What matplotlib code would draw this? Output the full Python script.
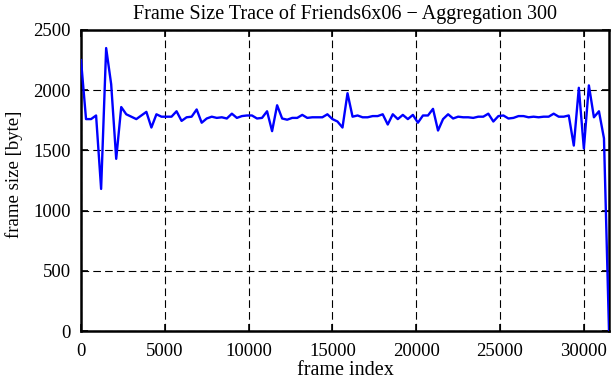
import matplotlib
matplotlib.use("Agg")
import matplotlib.pyplot as plt

# --- Data (aggregation of 300 frames) ---
frame_index = list(range(0, 31201, 300)) + [31500]
frame_size = [
    2250, 1760, 1760, 1790, 1180, 2350, 2050, 1430, 1860, 1800,   # 0 - 2700
    1780, 1760, 1790, 1820, 1690, 1800, 1780, 1780, 1780, 1825,   # 3000 - 5700
    1745, 1775, 1780, 1840, 1730, 1765, 1780, 1770, 1775, 1765,   # 6000 - 8700
    1805, 1770, 1785, 1790, 1790, 1765, 1770, 1825, 1660, 1875,   # 9000 - 11700
    1765, 1755, 1770, 1770, 1795, 1770, 1775, 1775, 1775, 1800,   # 12000 - 14700
    1760, 1740, 1690, 1975, 1780, 1790, 1775, 1775, 1785, 1785,   # 15000 - 17700
    1800, 1715, 1800, 1760, 1795, 1760, 1795, 1730, 1790, 1790,   # 18000 - 20700
    1845, 1665, 1760, 1800, 1765, 1780, 1775, 1775, 1770, 1780,   # 21000 - 23700
    1780, 1805, 1740, 1785, 1790, 1765, 1770, 1785, 1785, 1775,   # 24000 - 26700
    1780, 1775, 1780, 1780, 1805, 1780, 1780, 1790, 1540, 2020,   # 27000 - 29700
    1515, 2040, 1775, 1825, 1600, 0,                               # 30000 - 31500
]
x_ticks = [0, 5000, 10000, 15000, 20000, 25000, 30000]
y_ticks = [0, 500, 1000, 1500, 2000, 2500]

# --- Style ---
plt.rcParams['font.family'] = ['Liberation Serif', 'DejaVu Serif']
plt.rcParams['lines.scale_dashes'] = False

fig = plt.figure(figsize=(6.11, 3.80), dpi=100)
ax = fig.add_axes([81 / 611, 1 - 331 / 380, 528 / 611, 301 / 380])

ax.plot(frame_index, frame_size, color='#0000ff', lw=1.7, zorder=3)

ax.set_xlim(0, 31500)
ax.set_ylim(0, 2500)
ax.set_xticks(x_ticks)
ax.set_yticks(y_ticks)
ax.tick_params(direction='in', length=5, width=1.2, top=True, right=True,
               labelsize=13.5)
ax.tick_params(axis='x', pad=9)
ax.tick_params(axis='y', pad=7.5)

ax.grid(True, color='black', lw=0.8, linestyle=(0, (5.5, 3)))
for sp in ax.spines.values():
    sp.set_linewidth(1.8)

ax.set_title("Frame Size Trace of Friends6x06 \u2212 Aggregation 300",
             fontsize=14.5, pad=8)
ax.set_xlabel("frame index", fontsize=14.5)
ax.xaxis.set_label_coords(0.5, -0.10)
ax.set_ylabel("frame size [byte]", fontsize=13.5)
ax.yaxis.set_label_coords(-0.11, 0.52)

fig.savefig("out.png", dpi=100)
